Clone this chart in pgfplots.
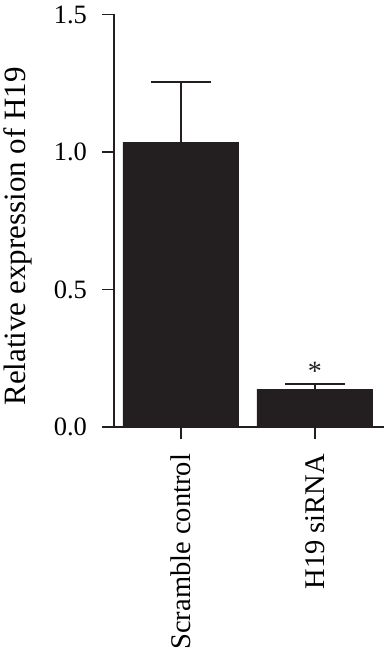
\documentclass[border=0pt]{standalone}
\usepackage{fontspec}
\setmainfont{Liberation Serif}
\usepackage{pgfplots}
\pgfplotsset{compat=1.18}
\definecolor{barblack}{RGB}{35,31,32}
\begin{document}
\begin{tikzpicture}
\begin{axis}[
  scale only axis, width=270pt, height=412.5pt,
  xmin=-0.5, xmax=1.515, ymin=0, ymax=1.5,
  axis x line=bottom, axis y line=left,
  axis line style={-, line width=1.6pt, color=barblack},
  xtick={0,1}, xticklabels={Scramble control, H19 siRNA},
  ytick={0,0.5,1,1.5}, yticklabels={0.0,0.5,1.0,1.5},
  tick align=outside, major tick length=11.5pt,
  tick style={line width=1.6pt, color=barblack},
  yticklabel style={font=\fontsize{26.5}{26.5}\selectfont, xshift=-12pt},
  xticklabel style={font=\fontsize{28.5}{28.5}\selectfont, rotate=90, anchor=east},
  xticklabel shift=12pt,
  ylabel={Relative expression of H19},
  ylabel style={font=\fontsize{31}{31}\selectfont, at={(axis description cs:-0.355,0.462)}, anchor=center},
  ybar, bar width=116pt, bar shift=0pt,
  clip=false,
]
\addplot[ybar, bar width=116pt, fill=barblack, draw=none,
  error bars/.cd, y dir=plus, y explicit,
  error bar style={draw=barblack, line width=1.6pt},
  error mark options={draw=barblack, line width=1.6pt, mark size=30pt, rotate=90}]
  coordinates {(0,1.036) +- (0,0.218) (1,0.138) +- (0,0.018)};
\node[font=\fontsize{28}{28}\selectfont, anchor=base, text=barblack] at (axis cs:1,0.17) {*};
\end{axis}
\pgfresetboundingbox
\useasboundingbox (current axis.south west) ++(-114pt,-225pt) rectangle ++(384pt,652pt);
\end{tikzpicture}
\end{document}
